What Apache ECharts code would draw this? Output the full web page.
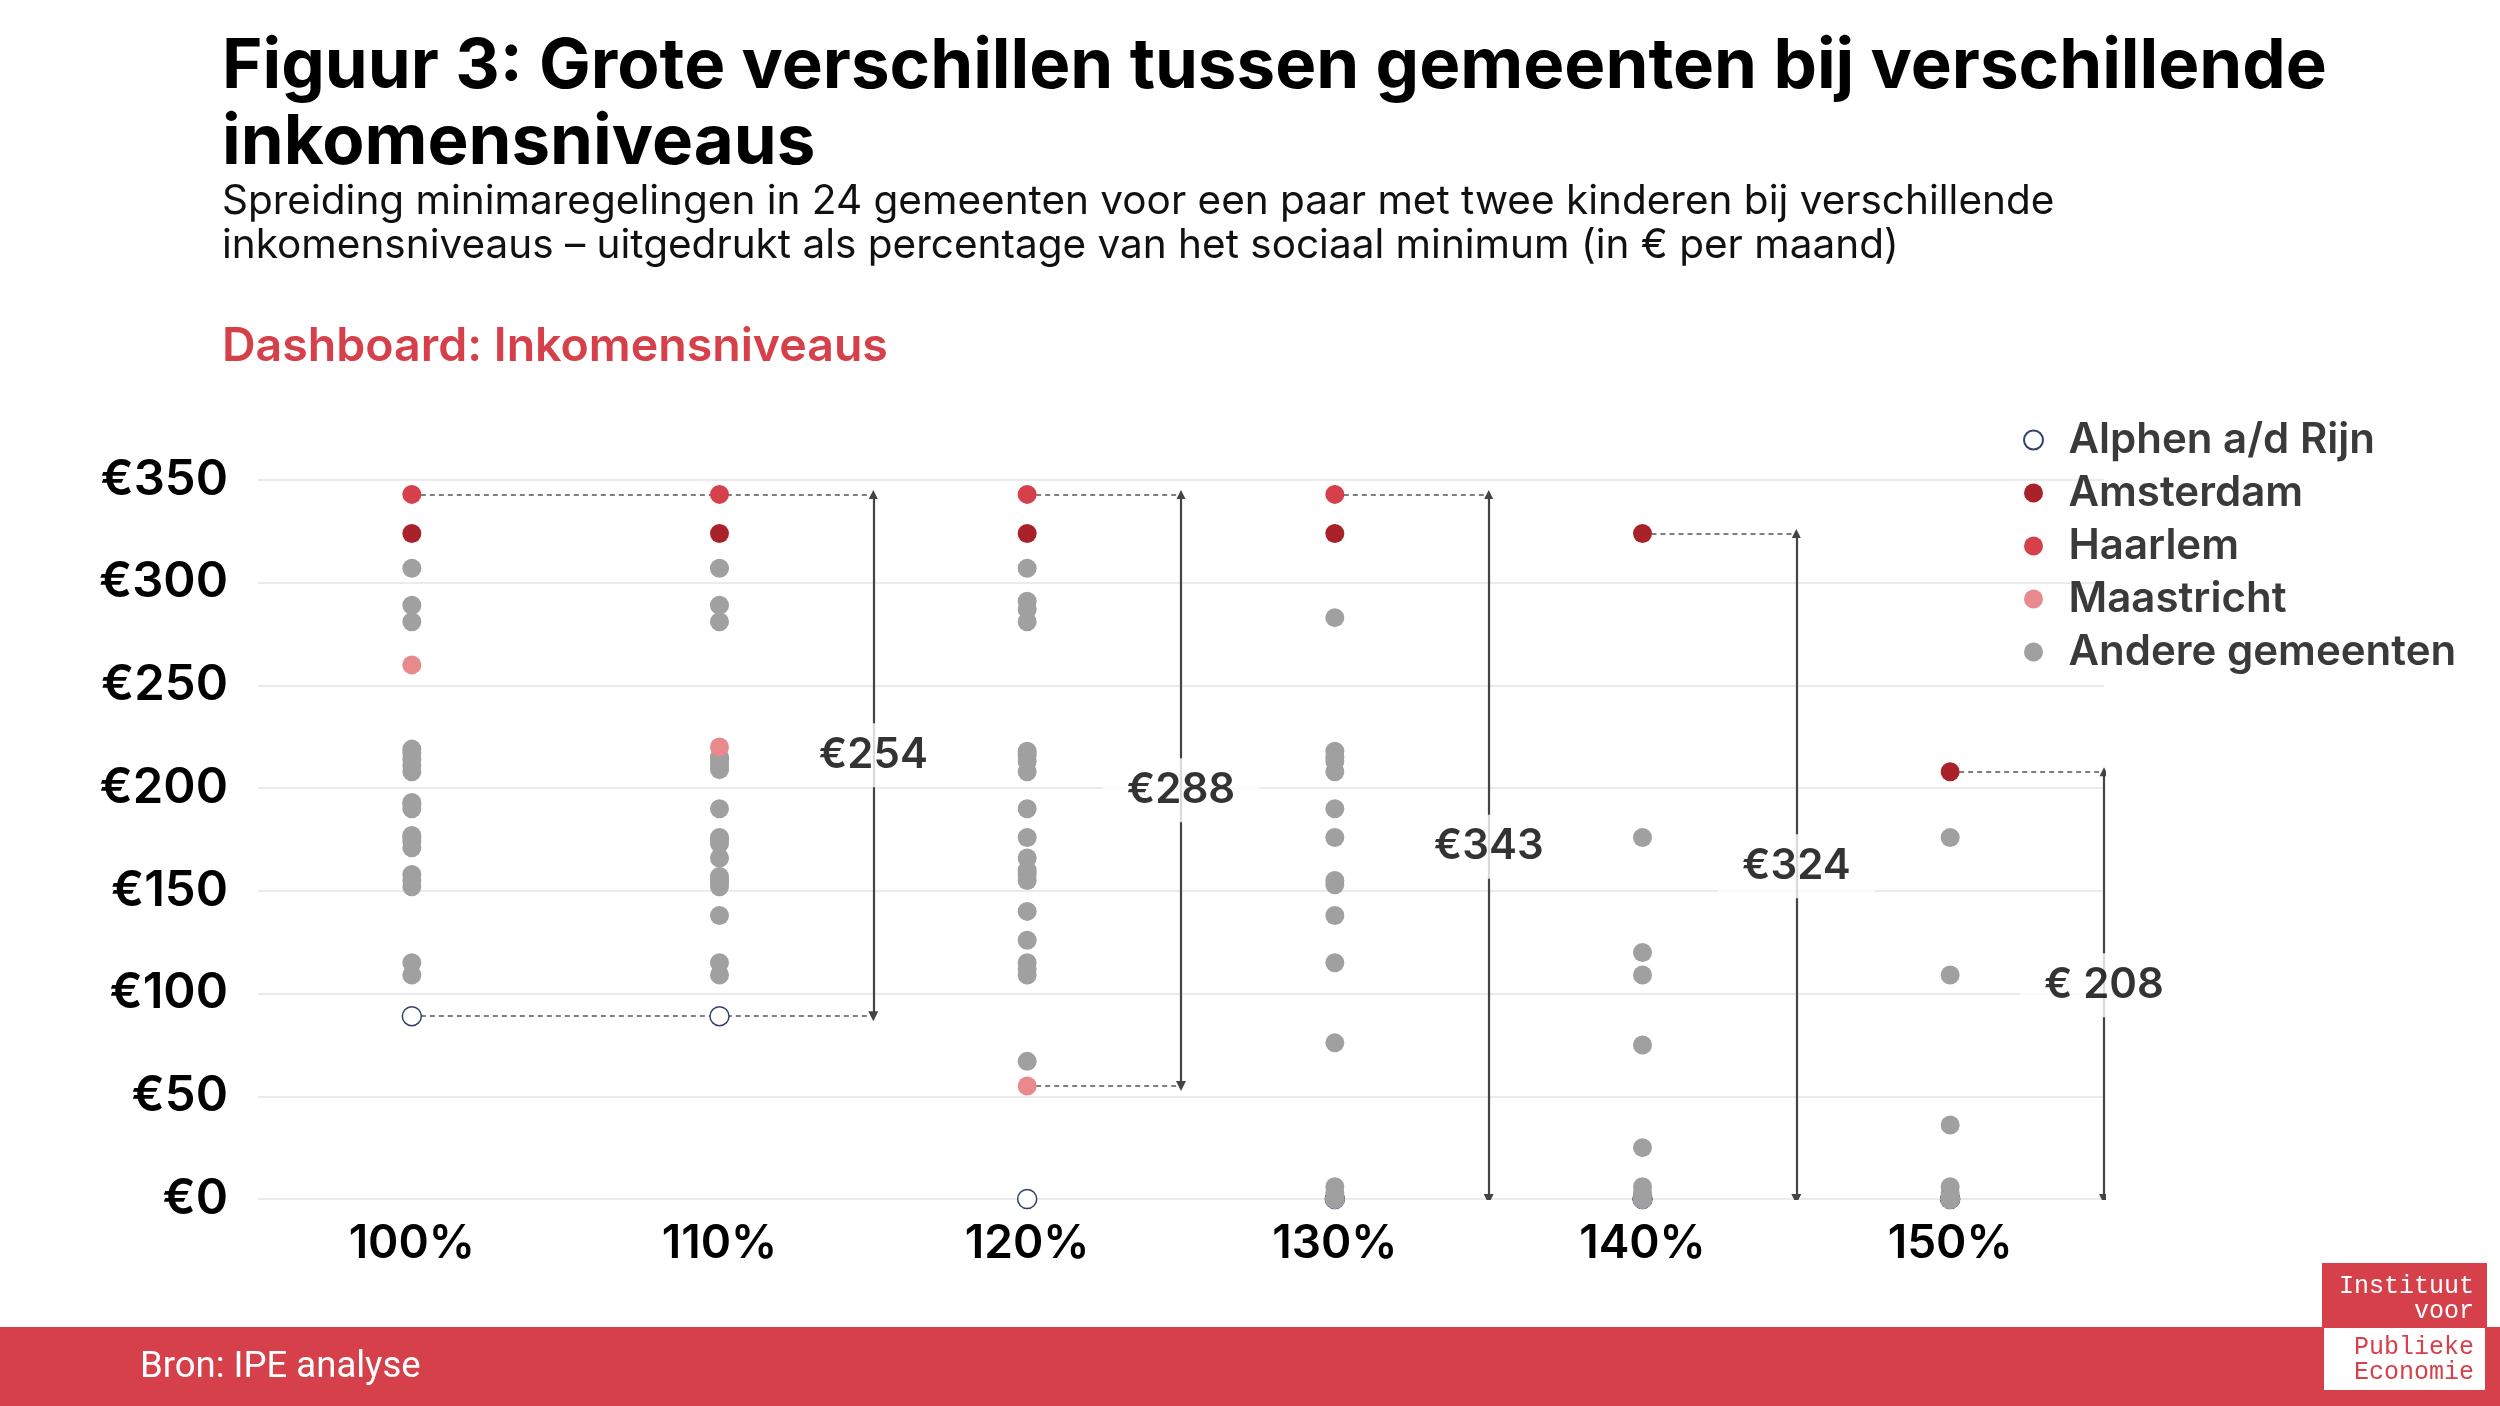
<!DOCTYPE html>
<html>
<head>
<meta charset="utf-8">
<script src="https://cdn.jsdelivr.net/npm/echarts@6/dist/echarts.min.js"></script>
<style>
html,body{margin:0;padding:0;background:#fff;}
#chart{width:2500px;height:1406px;}
</style>
</head>
<body>
<div id="chart"></div>
<script>
// ---- data ----
const categories = ['100%', '110%', '120%', '130%', '140%', '150%'];
const yTicks = [0, 50, 100, 150, 200, 250, 300, 350];

const alphen     = [89, 89, 0, 0, 0, 0];
const amsterdam  = [324, 324, 324, 324, 324, 208];
const haarlem    = [343, 343, 343, 343, null, null];
const maastricht = [260, 220, 55, null, null, null];

const others100 = [307, 289, 281, 219, 217, 214, 211, 208, 193, 192, 190, 177, 176, 174, 171, 158, 155, 152, 115, 109];
const others110 = [307, 289, 281, 215, 214, 212, 210, 209, 190, 176, 175, 173, 166, 157, 155, 154, 152, 138, 115, 109];
const others120 = [307, 291, 287, 281, 218, 216, 213, 208, 190, 176, 166, 160, 158, 155, 140, 126, 115, 112, 109, 67];
const others130 = [283, 218, 215, 213, 208, 190, 176, 155, 153, 138, 115, 76, 6, 3, 0, 0, 0, 0, 0, 0];
const others140 = [176, 120, 109, 75, 25, 6, 3, 0, 0, 0, 0, 0, 0, 0, 0, 0, 0, 0, 0, 0];
const others150 = [176, 109, 36, 6, 3, 0, 0, 0, 0, 0, 0, 0, 0, 0, 0, 0, 0, 0, 0, 0];
const othersAll = [others100, others110, others120, others130, others140, others150];

// range annotations (spread between highest and lowest municipality)
const rangeX      = [1.5, 2.5, 3.5, 4.5, 5.5];
const rangeFrom   = [0, 2, 3, 4, 5];
const rangeTop    = [343, 343, 343, 324, 208];
const rangeBottom = [89, 55, 0, 0, 0];
const rangeLabels = ['€254', '€288', '€343', '€324', '€ 208'];

// ---- styles ----
const RED = '#D6404A';
const FONT = 'Inter, "Noto Sans", sans-serif';

function toPoints(arr) {
  const out = [];
  arr.forEach((v, i) => { if (v !== null) out.push([i, v]); });
  return out;
}
const othersPoints = [];
othersAll.forEach((list, i) => list.forEach(v => othersPoints.push([i, v])));

const arrowData = rangeX.map((x, i) => ({ coords: [[x, rangeTop[i]], [x, rangeBottom[i]]] }));
const dashData = [];
rangeX.forEach((x, i) => {
  dashData.push({ coords: [[rangeFrom[i], rangeTop[i]], [x, rangeTop[i]]] });
  if (rangeBottom[i] > 0) dashData.push({ coords: [[rangeFrom[i], rangeBottom[i]], [x, rangeBottom[i]]] });
});
const labelData = rangeX.map((x, i) => [x, (rangeTop[i] + rangeBottom[i]) / 2]);

const chart = echarts.init(document.getElementById('chart'), null, { renderer: 'canvas' });

const dot = 19;
chart.setOption({
  backgroundColor: '#fff',
  animation: false,
  textStyle: { fontFamily: FONT },
  grid: { left: 258, right: 396, top: 480, bottom: 207, containLabel: false },
  legend: {
    orient: 'vertical',
    left: 2018,
    top: 410,
    itemWidth: 60,
    itemHeight: 19,
    itemGap: 3,
    textStyle: { fontSize: 42, fontWeight: 600, color: '#3a3a3a', lineHeight: 50, fontFamily: FONT },
    data: ['Alphen a/d Rijn', 'Amsterdam', 'Haarlem', 'Maastricht', 'Andere gemeenten']
  },
  xAxis: [
    {
      type: 'category',
      data: categories,
      boundaryGap: true,
      axisLine: { show: false },
      axisTick: { show: false },
      splitLine: { show: false },
      axisLabel: { fontSize: 46, fontWeight: 600, color: '#000', margin: 22, fontFamily: FONT }
    },
    { type: 'value', min: -0.5, max: 5.5, show: false }
  ],
  yAxis: {
    type: 'value',
    min: yTicks[0],
    max: yTicks[yTicks.length - 1],
    interval: 50,
    axisLine: { show: false },
    axisTick: { show: false },
    splitLine: { lineStyle: { color: '#e4e4e4', width: 1.5 } },
    axisLabel: { fontSize: 49, fontWeight: 600, color: '#000', margin: 30, fontFamily: FONT,
      formatter: v => '€' + v }
  },
  series: [
    {
      type: 'lines', coordinateSystem: 'cartesian2d', xAxisIndex: 1, yAxisIndex: 0,
      z: 1, silent: true, symbol: 'none',
      lineStyle: { color: '#555', width: 1.5, type: [5, 4], opacity: 1, curveness: 0 },
      data: dashData
    },
    {
      type: 'lines', coordinateSystem: 'cartesian2d', xAxisIndex: 1, yAxisIndex: 0,
      z: 2, silent: true, symbol: ['triangle', 'triangle'], symbolSize: [9, 10],
      lineStyle: { color: '#444', width: 2.2, opacity: 1, curveness: 0 },
      data: arrowData
    },
    {
      name: 'Alphen a/d Rijn', type: 'scatter', xAxisIndex: 0, z: 3, symbolSize: dot,
      itemStyle: { color: '#fff', borderColor: '#34406a', borderWidth: 1.5, opacity: 1 },
      data: toPoints(alphen)
    },
    {
      name: 'Andere gemeenten', type: 'scatter', xAxisIndex: 0, z: 4, symbolSize: dot,
      itemStyle: { color: '#a0a0a0', opacity: 1 },
      data: othersPoints
    },
    {
      name: 'Amsterdam', type: 'scatter', xAxisIndex: 0, z: 5, symbolSize: dot,
      itemStyle: { color: '#AA2229', opacity: 1 },
      data: toPoints(amsterdam)
    },
    {
      name: 'Haarlem', type: 'scatter', xAxisIndex: 0, z: 5, symbolSize: dot,
      itemStyle: { color: RED, opacity: 1 },
      data: toPoints(haarlem)
    },
    {
      name: 'Maastricht', type: 'scatter', xAxisIndex: 0, z: 5, symbolSize: dot,
      itemStyle: { color: '#E8898E', opacity: 1 },
      data: toPoints(maastricht)
    },
    {
      type: 'scatter', xAxisIndex: 1, z: 6, silent: true, symbolSize: 1,
      itemStyle: { color: 'transparent' },
      label: {
        show: true, position: 'inside',
        formatter: p => rangeLabels[p.dataIndex],
        fontSize: 42, fontWeight: 600, color: '#000', fontFamily: FONT,
        backgroundColor: '#fff', padding: [11, 24]
      },
      data: labelData
    }
  ],
  graphic: [
    { type: 'text', x: 222, y: 67, style: { text: 'Figuur 3: Grote verschillen tussen gemeenten bij verschillende', font: `700 69px ${FONT}`, fill: '#000', verticalAlign: 'middle' } },
    { type: 'text', x: 222, y: 143, style: { text: 'inkomensniveaus', font: `700 69px ${FONT}`, fill: '#000', verticalAlign: 'middle' } },
    { type: 'text', x: 222, y: 202, style: { text: 'Spreiding minimaregelingen in 24 gemeenten voor een paar met twee kinderen bij verschillende', font: `400 40.5px ${FONT}`, fill: '#111', verticalAlign: 'middle' } },
    { type: 'text', x: 222, y: 246, style: { text: 'inkomensniveaus – uitgedrukt als percentage van het sociaal minimum (in € per maand)', font: `400 40.5px ${FONT}`, fill: '#111', verticalAlign: 'middle' } },
    { type: 'text', x: 222, y: 347, style: { text: 'Dashboard: Inkomensniveaus', font: `600 46.5px ${FONT}`, fill: RED, verticalAlign: 'middle' } },
    { type: 'rect', shape: { x: 0, y: 1327, width: 2500, height: 79 }, style: { fill: RED } },
    { type: 'text', x: 140, y: 1368, style: { text: 'Bron: IPE analyse', font: '400 36.5px Roboto, sans-serif', fill: '#fff', verticalAlign: 'middle' } },
    { type: 'rect', shape: { x: 2322, y: 1263, width: 165, height: 64 }, style: { fill: RED } },
    { type: 'rect', shape: { x: 2323, y: 1327, width: 163, height: 64 }, style: { fill: '#fff', stroke: RED, lineWidth: 2 } },
    { type: 'text', x: 2474, y: 1286, style: { text: 'Instituut', font: '400 25px "Liberation Mono", monospace', fill: '#fff', align: 'right', verticalAlign: 'middle' } },
    { type: 'text', x: 2474, y: 1311, style: { text: 'voor', font: '400 25px "Liberation Mono", monospace', fill: '#fff', align: 'right', verticalAlign: 'middle' } },
    { type: 'text', x: 2474, y: 1347, style: { text: 'Publieke', font: '400 25px "Liberation Mono", monospace', fill: RED, align: 'right', verticalAlign: 'middle' } },
    { type: 'text', x: 2474, y: 1372, style: { text: 'Economie', font: '400 25px "Liberation Mono", monospace', fill: RED, align: 'right', verticalAlign: 'middle' } }
  ]
});
</script>
</body>
</html>
